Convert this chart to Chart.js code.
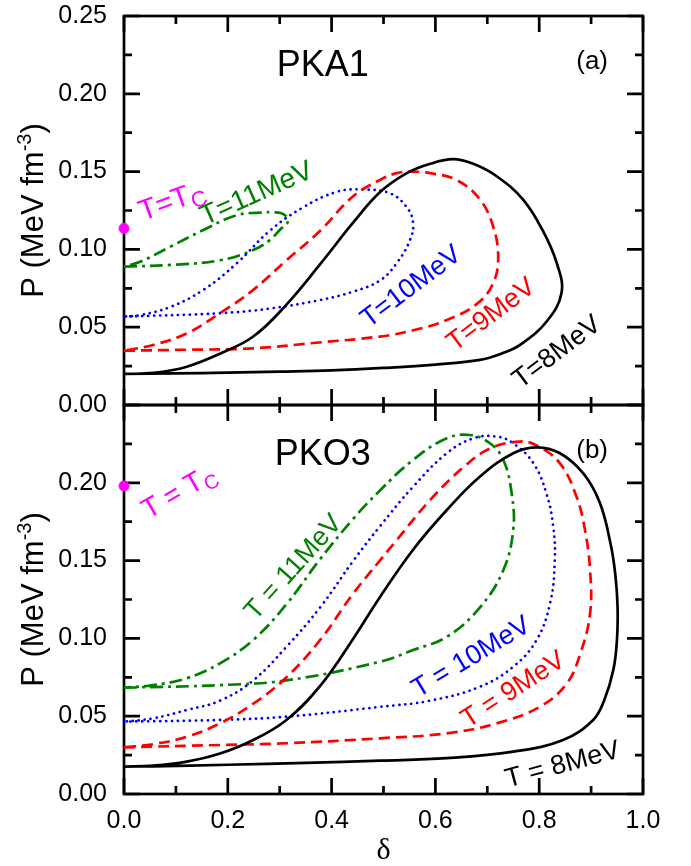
<!DOCTYPE html>
<html>
<head>
<meta charset="utf-8">
<script src="https://cdn.jsdelivr.net/npm/chart.js@4.4.1/dist/chart.umd.min.js"></script>
<style>
    html, body { margin: 0; padding: 0; background: #ffffff; }
    #wrap { width: 691px; height: 866px; }
</style>
</head>
<body>
<div id="wrap"><canvas id="eosChart" width="691" height="866"></canvas></div>
<script>
// ============================
// Data
// ============================
const xTickValues = [0, 0.2, 0.4, 0.6, 0.8, 1.0];
const yTickValues = [0, 0.05, 0.10, 0.15, 0.20, 0.25];

// panel (a) PKA1 - loops start at delta=0, run along the lower branch and come back on the upper one
const pka1T8X = [0, 0.1, 0.2, 0.3, 0.4, 0.5, 0.6, 0.686, 0.73, 0.763, 0.814, 0.843, 0.834, 0.807, 0.769, 0.718, 0.673, 0.634, 0.590, 0.545, 0.494, 0.441, 0.378, 0.313, 0.249, 0.185, 0.121, 0.057, 0];
const pka1T8Y = [0.020, 0.0203, 0.0208, 0.0214, 0.0222, 0.0238, 0.026, 0.029, 0.0334, 0.0386, 0.0535, 0.072, 0.091, 0.112, 0.132, 0.147, 0.155, 0.158, 0.155, 0.149, 0.137, 0.117, 0.0905, 0.0645, 0.044, 0.033, 0.0246, 0.0206, 0.020];

const pka1T9X = [0, 0.12, 0.249, 0.37, 0.493, 0.557, 0.622, 0.68, 0.711, 0.721, 0.711, 0.686, 0.641, 0.59, 0.555, 0.525, 0.493, 0.441, 0.378, 0.313, 0.249, 0.185, 0.121, 0.056, 0];
const pka1T9Y = [0.0349, 0.0355, 0.0364, 0.040, 0.044, 0.048, 0.0546, 0.065, 0.078, 0.095, 0.115, 0.132, 0.1446, 0.149, 0.150, 0.149, 0.1446, 0.134, 0.112, 0.093, 0.074, 0.059, 0.046, 0.0386, 0.0349];

const pka1T10X = [0, 0.185, 0.281, 0.378, 0.441, 0.493, 0.525, 0.551, 0.557, 0.545, 0.513, 0.46, 0.41, 0.345, 0.281, 0.217, 0.153, 0.089, 0.031, 0];
const pka1T10Y = [0.0568, 0.059, 0.062, 0.0675, 0.0728, 0.080, 0.091, 0.106, 0.117, 0.127, 0.136, 0.1385, 0.137, 0.127, 0.112, 0.091, 0.074, 0.063, 0.0578, 0.0568];

const pka1T11X = [0, 0.089, 0.185, 0.249, 0.281, 0.300, 0.316, 0.308, 0.29, 0.262, 0.217, 0.153, 0.089, 0.031, 0];
const pka1T11Y = [0.0889, 0.090, 0.093, 0.0996, 0.106, 0.1125, 0.118, 0.1225, 0.1238, 0.1236, 0.122, 0.1125, 0.1017, 0.092, 0.0889];

const pka1Tc = 0.1135;

// panel (b) PKO3
const pko3T8X = [0, 0.056, 0.2, 0.35, 0.493, 0.622, 0.75, 0.846, 0.904, 0.925, 0.943, 0.950, 0.951, 0.947, 0.938, 0.917, 0.885, 0.840, 0.795, 0.75, 0.686, 0.622, 0.557, 0.493, 0.442, 0.378, 0.313, 0.249, 0.185, 0.121, 0.056, 0];
const pko3T8Y = [0.0176, 0.0178, 0.0188, 0.020, 0.0214, 0.023, 0.0272, 0.0347, 0.0476, 0.060, 0.080, 0.100, 0.120, 0.140, 0.160, 0.187, 0.206, 0.219, 0.2228, 0.219, 0.204, 0.1825, 0.157, 0.1265, 0.100, 0.0695, 0.0476, 0.0347, 0.026, 0.0208, 0.0182, 0.0176];

const pko3T9X = [0, 0.185, 0.313, 0.493, 0.622, 0.718, 0.801, 0.853, 0.879, 0.898, 0.898, 0.888, 0.872, 0.84, 0.795, 0.763, 0.705, 0.654, 0.59, 0.525, 0.493, 0.442, 0.378, 0.313, 0.249, 0.185, 0.121, 0.056, 0];
const pko3T9Y = [0.030, 0.0315, 0.0326, 0.0358, 0.039, 0.0454, 0.056, 0.071, 0.090, 0.116, 0.144, 0.170, 0.191, 0.2125, 0.224, 0.2265, 0.222, 0.210, 0.189, 0.163, 0.150, 0.129, 0.099, 0.075, 0.058, 0.0454, 0.0368, 0.032, 0.030];

const pko3T10X = [0, 0.185, 0.313, 0.493, 0.59, 0.686, 0.75, 0.795, 0.821, 0.830, 0.827, 0.814, 0.789, 0.75, 0.718, 0.673, 0.622, 0.557, 0.493, 0.442, 0.378, 0.313, 0.249, 0.185, 0.121, 0.056, 0];
const pko3T10Y = [0.0465, 0.0476, 0.0497, 0.056, 0.060, 0.069, 0.0818, 0.099, 0.1226, 0.150, 0.172, 0.193, 0.2125, 0.2254, 0.2297, 0.2286, 0.219, 0.1975, 0.172, 0.150, 0.120, 0.0946, 0.073, 0.060, 0.054, 0.0486, 0.0465];

const pko3T11X = [0, 0.185, 0.313, 0.493, 0.557, 0.622, 0.686, 0.731, 0.75, 0.747, 0.731, 0.705, 0.667, 0.622, 0.557, 0.493, 0.442, 0.378, 0.313, 0.249, 0.185, 0.121, 0.056, 0];
const pko3T11Y = [0.0683, 0.070, 0.073, 0.085, 0.0925, 0.101, 0.120, 0.144, 0.170, 0.193, 0.2147, 0.2254, 0.2307, 0.2286, 0.2147, 0.195, 0.177, 0.151, 0.122, 0.099, 0.084, 0.0744, 0.070, 0.0683];

const pko3Tc = 0.198;

// ============================
// Styles
// ============================
const FONT = "'Liberation Sans', Arial, sans-serif";
const BLACK = "#000000";
const RED = "#ff0000";
const BLUE = "#0000ff";
const GREEN = "#008000";
const MAGENTA = "#ff00ff";

function pts(xs, ys) {
    return xs.map((x, i) => ({ x: x, y: ys[i] }));
}

function curve(xs, ys, yAxis, color, dash, cap) {
    return {
        data: pts(xs, ys),
        xAxisID: "x",
        yAxisID: yAxis,
        showLine: true,
        borderColor: color,
        borderWidth: 2.7,
        borderDash: dash,
        borderCapStyle: cap || "butt",
        pointRadius: 0,
        tension: 0.4,
        fill: false
    };
}

function dot(y, yAxis) {
    return {
        data: [{ x: 0, y: y }],
        xAxisID: "x",
        yAxisID: yAxis,
        showLine: false,
        pointRadius: 5,
        pointBackgroundColor: MAGENTA,
        pointBorderColor: MAGENTA,
        clip: false
    };
}

const DASH_T9 = [11, 6];
const DOT_T10 = [0.1, 5.9];
const DASHDOT_T11 = [13, 5, 3, 5];

// ============================
// Annotations (text pieces: [text, size, baseline shift])
// ============================
const notes = [
    { axis: "yT", d: 0.091, p: 0.132, a: -20, c: MAGENTA, t: [["T=T", 29, 0], ["C", 22, 6]] },
    { axis: "yT", d: 0.254, p: 0.137, a: -24, c: GREEN, t: [["T=11MeV", 28, 0]] },
    { axis: "yT", d: 0.551, p: 0.077, a: -37, c: BLUE, t: [["T=10MeV", 27, 0]] },
    { axis: "yT", d: 0.705, p: 0.059, a: -37, c: RED, t: [["T=9MeV", 27, 0]] },
    { axis: "yT", d: 0.832, p: 0.035, a: -37, c: BLACK, t: [["T=8MeV", 27, 0]] },
    { axis: "yB", d: 0.104, p: 0.195, a: -30, c: MAGENTA, t: [["T = T", 28, 0], ["C", 20, 6]] },
    { axis: "yB", d: 0.324, p: 0.1465, a: -48, c: GREEN, t: [["T = 11MeV", 27, 0]] },
    { axis: "yB", d: 0.667, p: 0.089, a: -31, c: BLUE, t: [["T = 10MeV", 27, 0]] },
    { axis: "yB", d: 0.748, p: 0.068, a: -33, c: RED, t: [["T = 9MeV", 27, 0]] },
    { axis: "yB", d: 0.844, p: 0.020, a: -15, c: BLACK, t: [["T = 8MeV", 27, 0]] },
    { axis: "yT", d: 0.383, p: 0.220, a: 0, c: BLACK, t: [["PKA1", 36, 0]] },
    { axis: "yB", d: 0.383, p: 0.220, a: 0, c: BLACK, t: [["PKO3", 36, 0]] },
    { axis: "yT", d: 0.902, p: 0.222, a: 0, c: BLACK, t: [["(a)", 26, 0]] },
    { axis: "yB", d: 0.902, p: 0.222, a: 0, c: BLACK, t: [["(b)", 26, 0]] }
];

function drawPieces(ctx, pieces, cx, cy, angle, color) {
    let w = 0;
    pieces.forEach(pc => {
        ctx.font = pc[1] + "px " + FONT;
        w += ctx.measureText(pc[0]).width;
    });
    const main = pieces[0][1];
    ctx.save();
    ctx.translate(cx, cy);
    ctx.rotate(angle * Math.PI / 180);
    ctx.fillStyle = color;
    ctx.textBaseline = "alphabetic";
    ctx.textAlign = "left";
    let x = -w / 2;
    pieces.forEach(pc => {
        ctx.font = pc[1] + "px " + FONT;
        ctx.fillText(pc[0], x, main * 0.36 + pc[2]);
        x += ctx.measureText(pc[0]).width;
    });
    ctx.restore();
}

// ============================
// Frame, inward ticks and texts
// ============================
const framePlugin = {
    id: "frame",
    beforeDatasetsDraw(chart) {
        const ctx = chart.ctx;
        const xs = chart.scales.x;
        const panels = [chart.scales.yT, chart.scales.yB];
        ctx.save();
        ctx.strokeStyle = BLACK;
        ctx.lineWidth = 2.7;

        panels.forEach(ys => {
            const l = xs.left, r = xs.right, t = ys.top, b = ys.bottom;
            ctx.strokeRect(l, t, r - l, b - t);

            for (let i = 0; i <= 10; i++) {
                const py = ys.getPixelForValue(i * 0.025);
                const len = i % 2 === 0 ? 16 : 8;
                ctx.beginPath();
                ctx.moveTo(l, py); ctx.lineTo(l + len, py);
                ctx.moveTo(r, py); ctx.lineTo(r - len, py);
                ctx.stroke();
            }
            for (let i = 0; i <= 10; i++) {
                const px = xs.getPixelForValue(i * 0.1);
                const len = i % 2 === 0 ? 16 : 8;
                ctx.beginPath();
                ctx.moveTo(px, t); ctx.lineTo(px, t + len);
                ctx.moveTo(px, b); ctx.lineTo(px, b - len);
                ctx.stroke();
            }
        });
        ctx.restore();
    },
    afterDatasetsDraw(chart) {
        const ctx = chart.ctx;
        const xs = chart.scales.x;

        notes.forEach(n => {
            const ys = chart.scales[n.axis];
            drawPieces(ctx, n.t, xs.getPixelForValue(n.d), ys.getPixelForValue(n.p), n.a, n.c);
        });

        // y axis titles
        [chart.scales.yT, chart.scales.yB].forEach(ys => {
            drawPieces(ctx, [["P (MeV fm", 31, 0], ["-3", 20, -12], [")", 31, 0]],
                32, (ys.top + ys.bottom) / 2, -90, BLACK);
        });

        // x axis title
        ctx.save();
        ctx.fillStyle = BLACK;
        ctx.font = "30px 'Liberation Serif', 'Times New Roman', serif";
        ctx.textAlign = "center";
        ctx.textBaseline = "middle";
        ctx.fillText("\u03b4", (xs.left + xs.right) / 2, chart.chartArea.bottom + 57);
        ctx.restore();
    }
};

// ============================
// Chart
// ============================
const tickFont = { family: FONT, size: 25 };

function yScale(hideTop) {
    return {
        type: "linear",
        position: "left",
        stack: "panels",
        stackWeight: 1,
        min: 0,
        max: 0.25,
        grid: { display: false, drawTicks: false },
        border: { display: false },
        afterBuildTicks: s => { s.ticks = yTickValues.map(v => ({ value: v })); },
        afterFit: s => {
            s.width = 124;
            s.paddingTop = 0;
            s.paddingBottom = 0;
        },
        ticks: {
            color: BLACK,
            font: tickFont,
            padding: 17,
            callback: v => (hideTop && v > 0.24) ? "" : v.toFixed(2)
        }
    };
}

document.addEventListener("DOMContentLoaded", function () {
    if (typeof Chart === "undefined") return;

    const canvas = document.getElementById("eosChart");

    new Chart(canvas, {
        type: "scatter",
        data: {
            datasets: [
                curve(pka1T8X, pka1T8Y, "yT", BLACK, []),
                curve(pka1T9X, pka1T9Y, "yT", RED, DASH_T9),
                curve(pka1T10X, pka1T10Y, "yT", BLUE, DOT_T10, "round"),
                curve(pka1T11X, pka1T11Y, "yT", GREEN, DASHDOT_T11),
                dot(pka1Tc, "yT"),
                curve(pko3T8X, pko3T8Y, "yB", BLACK, []),
                curve(pko3T9X, pko3T9Y, "yB", RED, DASH_T9),
                curve(pko3T10X, pko3T10Y, "yB", BLUE, DOT_T10, "round"),
                curve(pko3T11X, pko3T11Y, "yB", GREEN, DASHDOT_T11),
                dot(pko3Tc, "yB")
            ]
        },
        options: {
            responsive: false,
            animation: false,
            devicePixelRatio: 1,
            layout: { padding: { top: 16, right: 48, left: 0, bottom: 0 } },
            plugins: {
                legend: { display: false },
                tooltip: { enabled: false }
            },
            scales: {
                x: {
                    type: "linear",
                    position: "bottom",
                    min: 0,
                    max: 1,
                    grid: { display: false, drawTicks: false },
                    border: { display: false },
                    afterBuildTicks: s => { s.ticks = xTickValues.map(v => ({ value: v })); },
                    afterFit: s => {
                        s.height = 72;
                        s.paddingLeft = 0;
                        s.paddingRight = 0;
                    },
                    ticks: {
                        color: BLACK,
                        font: tickFont,
                        padding: 12,
                        maxRotation: 0,
                        callback: v => v.toFixed(1)
                    }
                },
                yB: yScale(true),
                yT: yScale(false)
            }
        },
        plugins: [framePlugin]
    });
});
</script>
</body>
</html>
